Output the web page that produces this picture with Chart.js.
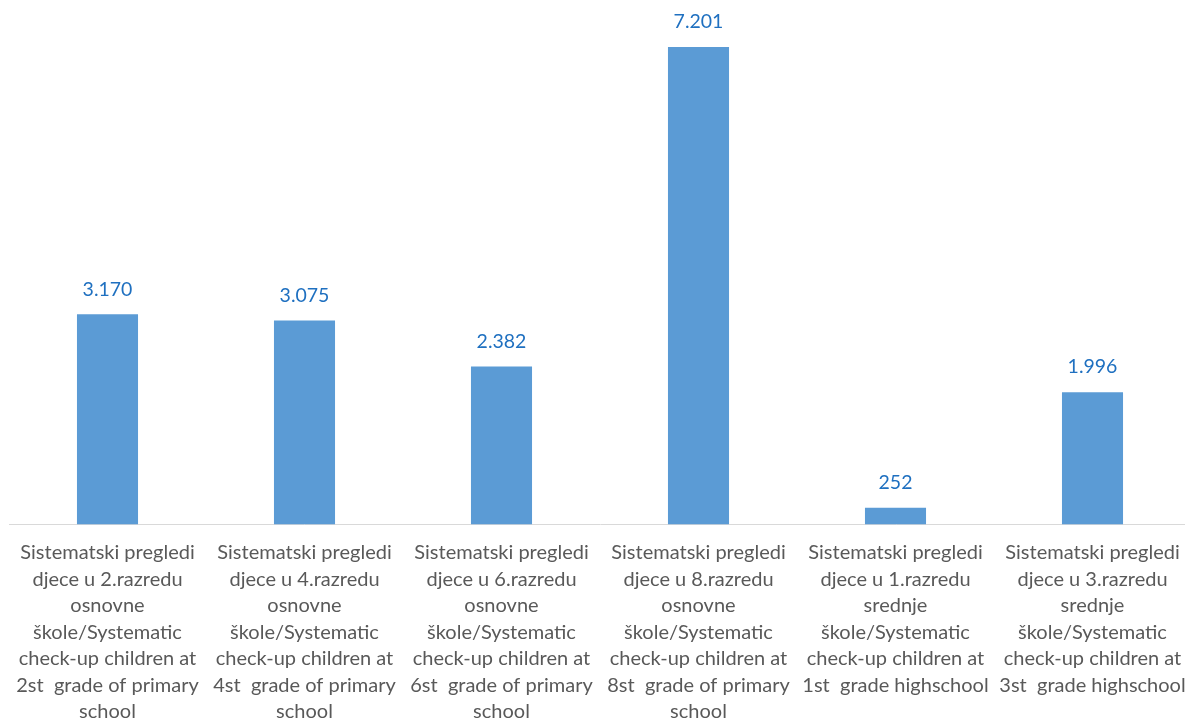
<!DOCTYPE html>
<html><head><meta charset="utf-8">
<script src="https://cdn.jsdelivr.net/npm/chart.js@4/dist/chart.umd.min.js"></script>
<style>html,body{margin:0;padding:0;overflow:hidden;background:#fff}#wrap{width:1191px;height:719px;position:relative}</style>
</head><body><div id="wrap"><canvas id="c"></canvas></div>
<script>
const categories = [
  ["Sistematski pregledi","djece u 2.razredu","osnovne","škole/Systematic","check-up children at","2st  grade of primary","school"],
  ["Sistematski pregledi","djece u 4.razredu","osnovne","škole/Systematic","check-up children at","4st  grade of primary","school"],
  ["Sistematski pregledi","djece u 6.razredu","osnovne","škole/Systematic","check-up children at","6st  grade of primary","school"],
  ["Sistematski pregledi","djece u 8.razredu","osnovne","škole/Systematic","check-up children at","8st  grade of primary","school"],
  ["Sistematski pregledi","djece u 1.razredu","srednje","škole/Systematic","check-up children at","1st  grade highschool"],
  ["Sistematski pregledi","djece u 3.razredu","srednje","škole/Systematic","check-up children at","3st  grade highschool"]
];
const values = [3170, 3075, 2382, 7201, 252, 1996];
const valueLabels = ["3.170", "3.075", "2.382", "7.201", "252", "1.996"];

const labelPlugin = {
  id: 'vlabels',
  afterDatasetsDraw(chart) {
    const ctx = chart.ctx;
    const meta = chart.getDatasetMeta(0);
    ctx.save();
    ctx.font = '19.5px Lato';
    ctx.fillStyle = '#1F70C0';
    ctx.textAlign = 'center';
    ctx.textBaseline = 'middle';
    meta.data.forEach((bar, i) => {
      ctx.fillText(valueLabels[i], bar.x, bar.y - 25);
    });
    ctx.restore();
  }
};

new Chart(document.getElementById('c'), {
  type: 'bar',
  data: { labels: categories, datasets: [{ data: values, backgroundColor: '#5B9BD5', barPercentage: 0.31, categoryPercentage: 1 }] },
  options: {
    responsive: true, maintainAspectRatio: false, animation: false,
    layout: { padding: { left: 9, right: 0, top: 0, bottom: -6 } },
    plugins: { legend: { display: false }, tooltip: { enabled: false } },
    scales: {
      x: {
        grid: { display: true, drawOnChartArea: false, drawTicks: true, tickLength: 15, tickColor: 'rgba(0,0,0,0)' },
        border: { color: '#D9D9D9', width: 1 },
        ticks: { color: '#595959', font: { family: 'Lato', size: 20, lineHeight: 1.325 }, maxRotation: 0, autoSkip: false, padding: 0 }
      },
      y: { display: false, min: 0, max: 7910 }
    }
  },
  plugins: [labelPlugin]
});
</script></body></html>
